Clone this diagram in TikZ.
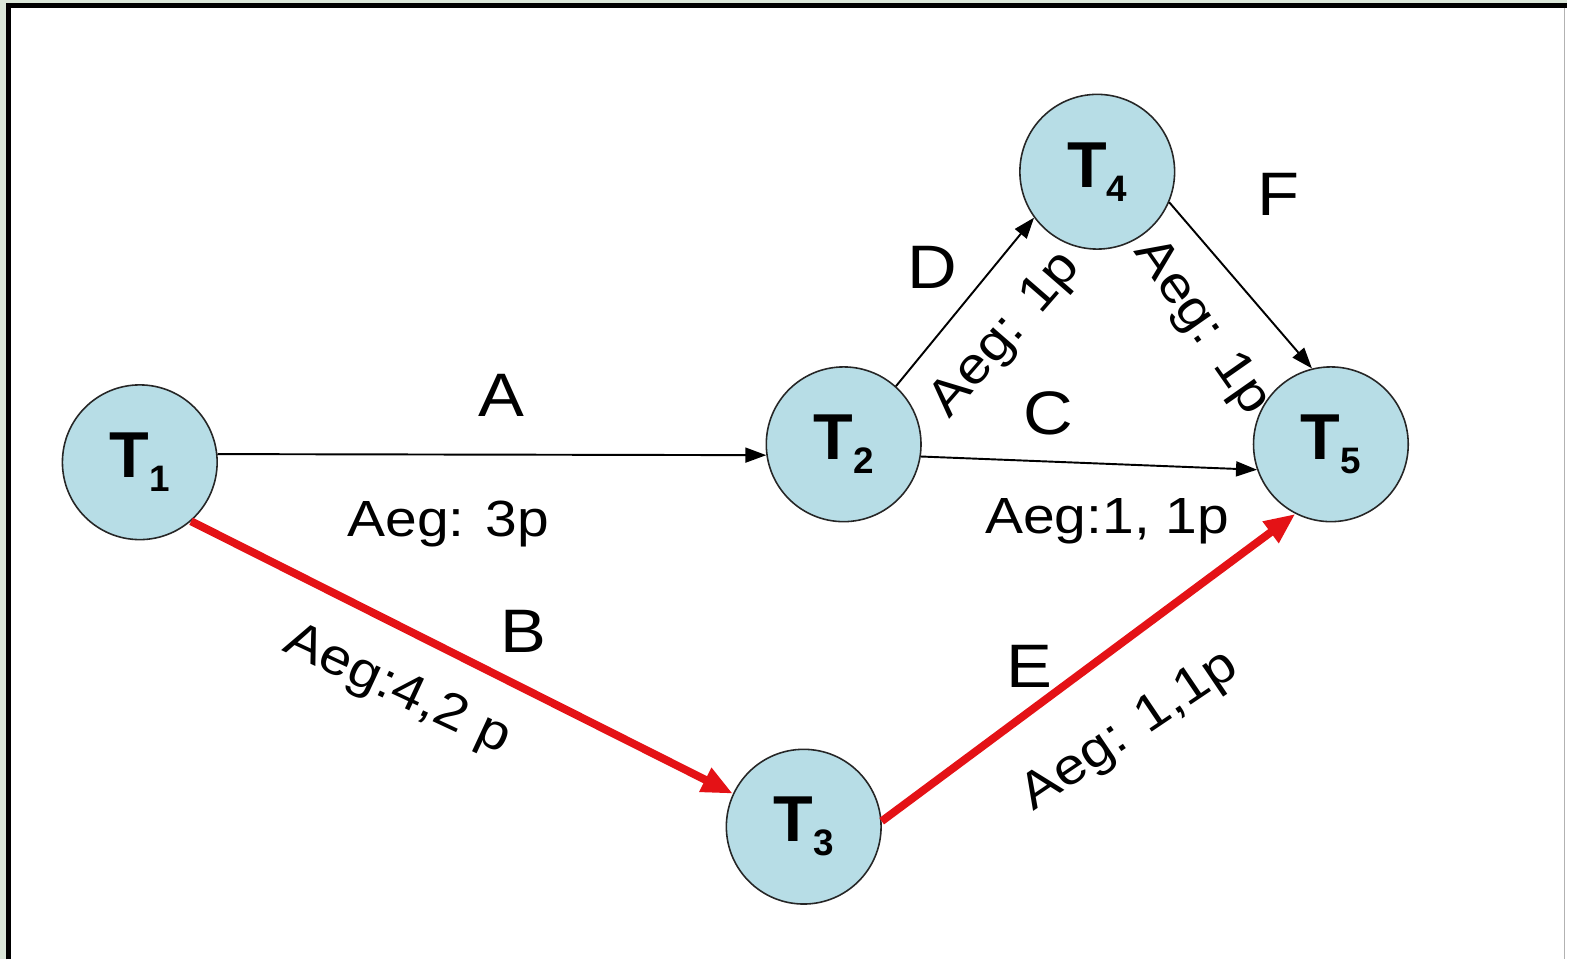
\documentclass[tikz,border=0pt]{standalone}
\usepackage{fontspec}
\setmainfont{Liberation Sans}
\newfontfamily\lblfont[FakeStretch=1.12]{Liberation Sans}
\usepackage{xcolor}
\usetikzlibrary{arrows.meta}
\definecolor{taskblue}{RGB}{183,221,230}
\definecolor{critred}{RGB}{228,18,22}
\definecolor{paleedge}{RGB}{218,230,216}
\newcommand{\tname}[1]{T\raisebox{-8pt}{\fontsize{21}{21}\selectfont #1}}

\begin{document}
\begin{tikzpicture}[x=0.02cm, y=-0.02cm,
    task/.style={circle, draw=black!85, line width=0.9pt, fill=taskblue, minimum size=3.1cm, inner sep=0pt, font=\fontsize{37}{37}\selectfont\bfseries},
    act/.style={-{Triangle[length=0.42cm, width=0.3cm]}, line width=1.1pt},
    crit/.style={-{Triangle[length=0.62cm, width=0.5cm]}, line width=4.5pt, draw=critred},
    letter/.style={inner sep=0pt, font=\lblfont\fontsize{35}{35}\selectfont},
    dur/.style={inner sep=0pt, font=\lblfont\fontsize{29}{29}\selectfont}]
    % frame
    \fill[paleedge] (0,0) rectangle (1569,961);
    \fill[white] (6,3) rectangle (1569,961);
    \draw[line width=0.1cm] (8.5,961) -- (8.5,5.5) -- (1569,5.5);
    \draw[black!30, line width=1pt] (1567,8) -- (1567,961);
    \useasboundingbox (0,0) rectangle (1569,961);

    % events
    \node[task] (T1) at (140, 463) {\tname{1}};
    \node[task] (T2) at (845, 445) {\tname{2}};
    \node[task] (T3) at (805, 828) {\tname{3}};
    \node[task] (T4) at (1099, 172) {\tname{4}};
    \node[task] (T5) at (1333, 445) {\tname{5}};

    % activities
    \draw[act] (T1.6) -- (T2.188);
    \draw[act] (T2.-9) -- (T5.199);
    \draw[act] (T2.48) -- (T4.216);
    \draw[act] (T4.-23) -- (T5.104);
    \draw[crit] (T1.-49) -- (T3.155);
    \draw[crit] (T3.4) -- (T5.243);

    % labels
    \node[letter] (lA) at (502, 396) {A};
    \node[dur] (dA) at (449, 525) {Aeg: 3p};
    \node[letter] (lB) at (524, 632) {B};
    \node[dur, rotate=-25] (dB) at (398, 692) {Aeg:4,2 p};
    \node[letter] (lC) at (1050, 414) {C};
    \node[dur] (dC) at (1109, 522) {Aeg:1, 1p};
    \node[letter] (lD) at (934, 268) {D};
    \node[dur, rotate=49] (dD) at (1008, 336) {Aeg: 1p};
    \node[letter] (lE) at (1031, 667) {E};
    \node[dur, rotate=34] (dE) at (1132, 733) {Aeg: 1,1p};
    \node[letter] (lF) at (1281, 195) {F};
    \node[dur, rotate=-55] (dF) at (1203, 328) {Aeg: 1p};
\end{tikzpicture}
\end{document}
